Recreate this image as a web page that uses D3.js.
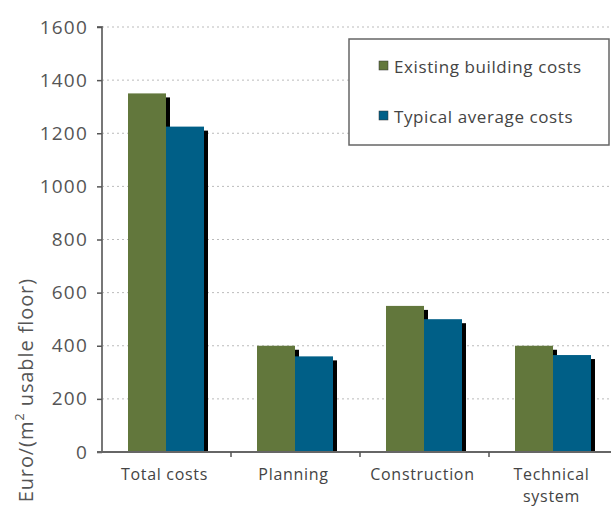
<!DOCTYPE html>
<html><head><meta charset="utf-8">
<script src="https://cdn.jsdelivr.net/npm/d3@7"></script>
<style>body{margin:0;background:#fff;} text{font-family:"Open Sans",sans-serif;}</style>
</head><body>
<svg id="c" width="611" height="506"></svg>
<script>
const categories = [["Total costs"], ["Planning"], ["Construction"], ["Technical", "system"]];
const seriesNames = ["Existing building costs", "Typical average costs"];
const existing = [1350, 400, 550, 400];
const typical = [1225, 360, 500, 365];
const yTicks = [0, 200, 400, 600, 800, 1000, 1200, 1400, 1600];
const colors = ["#62773c", "#005f87"];

const svg = d3.select("#c");
const m = {l: 102, r: 611 + 7, t: 27, b: 452};
const x = d3.scaleBand().domain(d3.range(categories.length)).range([m.l, m.r]).paddingInner(0).paddingOuter(0);
const y = d3.scaleLinear().domain([0, 1600]).range([m.b, m.t]);
const inner = d3.scaleBand().domain([0, 1]).range([26, 26 + 76]);

// grid
svg.append("g").selectAll("line").data(yTicks.filter(d => d > 0)).join("line")
  .attr("x1", m.l).attr("x2", 611).attr("y1", d => y(d)).attr("y2", d => y(d))
  .attr("stroke", "#bbb").attr("stroke-dasharray", "2,3").attr("stroke-width", 1);

const data = [existing, typical];
const g = svg.append("g");
data.forEach((vals, s) => {
  g.selectAll(null).data(vals).join("rect")
    .attr("x", (d, i) => x(i) + inner(s) + 4).attr("y", d => y(d) + 4)
    .attr("width", inner.bandwidth()).attr("height", d => m.b - y(d) - 4)
    .attr("fill", "#000");
});
data.forEach((vals, s) => {
  g.selectAll(null).data(vals).join("rect")
    .attr("x", (d, i) => x(i) + inner(s)).attr("y", d => y(d))
    .attr("width", inner.bandwidth()).attr("height", d => m.b - y(d))
    .attr("fill", colors[s]);
});

// y axis
const ya = svg.append("g").attr("transform", `translate(${m.l},0)`)
  .call(d3.axisLeft(y).tickValues(yTicks).tickFormat(d3.format("d")).tickSize(5).tickPadding(9));
ya.select(".domain").attr("stroke", "#777").attr("stroke-width", 2).attr("d", `M-5,${m.t}H0V${m.b}`);
ya.selectAll(".tick line").attr("stroke", "#555").attr("stroke-width", 1.5);
ya.selectAll(".tick text").attr("font-size", 19).attr("letter-spacing", 1.2).attr("fill", "#555").attr("font-family", "Open Sans");

// x axis
svg.append("line").attr("x1", m.l - 5).attr("x2", 611).attr("y1", m.b).attr("y2", m.b).attr("stroke", "#666").attr("stroke-width", 2);
svg.append("g").selectAll("line").data(d3.range(1, categories.length)).join("line")
  .attr("x1", i => x(i)).attr("x2", i => x(i)).attr("y1", m.b).attr("y2", m.b + 5).attr("stroke", "#555").attr("stroke-width", 1.5);
const lab = svg.append("g").selectAll("text").data(categories).join("text")
  .attr("x", (d, i) => x(i) + x.bandwidth() / 2 - 2).attr("y", 480)
  .attr("text-anchor", "middle").attr("font-size", 16).attr("letter-spacing", 0.7).attr("fill", "#444");
lab.selectAll("tspan").data(d => d).join("tspan")
  .attr("x", function() { return this.parentNode.getAttribute("x"); })
  .attr("dy", (d, i) => i === 0 ? 0 : 22).text(d => d);

// y label
svg.append("text").attr("transform", "translate(33,278) rotate(-90)")
  .attr("text-anchor", "end").attr("font-size", 20).attr("letter-spacing", 0.9).attr("fill", "#555")
  .html('Euro/(m<tspan baseline-shift="super" font-size="13">2</tspan> usable floor)');

// legend
const lg = svg.append("g");
lg.append("rect").attr("x", 349).attr("y", 39).attr("width", 260).attr("height", 106)
  .attr("fill", "#fff").attr("stroke", "#666").attr("stroke-width", 1.5);
seriesNames.forEach((n, i) => {
  const yy = 67 + i * 50;
  lg.append("rect").attr("x", 379).attr("y", yy - 6).attr("width", 9).attr("height", 9)
    .attr("fill", colors[i]).attr("stroke", "#333").attr("stroke-width", 0.5);
  lg.append("text").attr("x", 394).attr("y", yy + 6).attr("font-size", 17).attr("letter-spacing", 0.6).attr("fill", "#444").text(n);
});
</script>
</body></html>
